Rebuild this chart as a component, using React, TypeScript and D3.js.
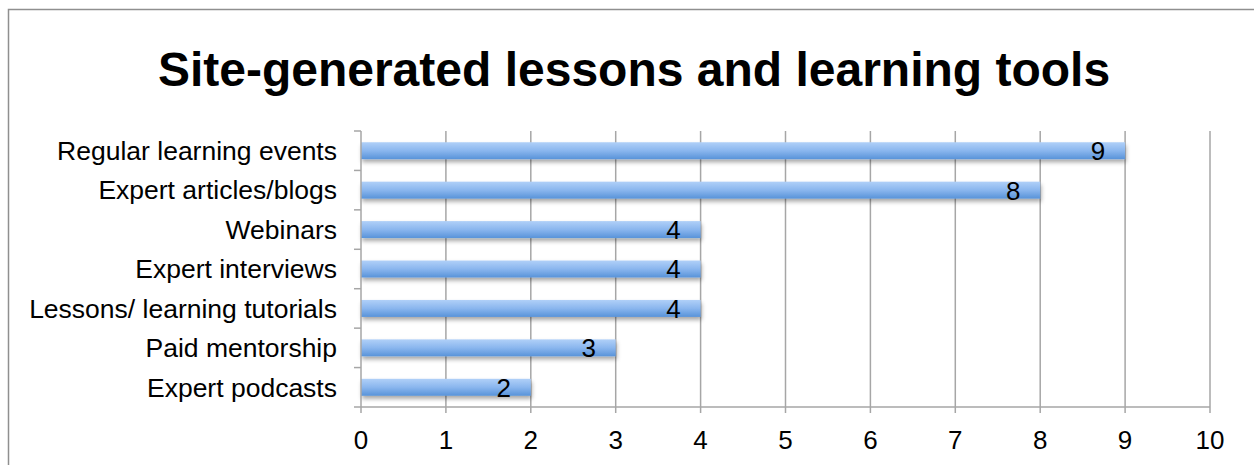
import React from "react";
import * as d3 from "d3";

const categories = [
  "Regular learning events",
  "Expert articles/blogs",
  "Webinars",
  "Expert interviews",
  "Lessons/ learning tutorials",
  "Paid mentorship",
  "Expert podcasts",
];
const values = [9, 8, 4, 4, 4, 3, 2];
const xTicks = [0, 1, 2, 3, 4, 5, 6, 7, 8, 9, 10];
const title = "Site-generated lessons and learning tools";

export default function App() {
  const W = 1254;
  const H = 465;
  const x = d3.scaleLinear().domain([0, 10]).range([361, 1210]);
  const y = d3
    .scaleBand<string>()
    .domain(categories)
    .range([131, 407])
    .paddingInner(0.57)
    .paddingOuter(0.285);
  const step = y.step();
  const top = 131;
  const bottom = 407;
  const font = "'Liberation Sans', Arial, Helvetica, sans-serif";
  const gridColor = "#a6a6a6";
  const boundaries = d3.range(categories.length + 1).map((i) => top + i * step);

  return (
    <svg
      width={W}
      height={H}
      style={{ position: "absolute", left: 0, top: 0, background: "#fff" }}
      fontFamily={font}
    >
      <defs>
        <linearGradient id="barGrad" x1="0" y1="0" x2="0" y2="1">
          <stop offset="0%" stopColor="#b0d0f8" />
          <stop offset="50%" stopColor="#8ab6ee" />
          <stop offset="100%" stopColor="#5893d9" />
        </linearGradient>
        <filter id="shadow" x="-5%" y="-30%" width="110%" height="190%">
          <feDropShadow dx="1" dy="3" stdDeviation="2" floodColor="#000" floodOpacity="0.35" />
        </filter>
      </defs>
      <rect x={8.5} y={9.5} width={1400} height={600} fill="#fff" stroke="#8f8f8f" strokeWidth={1.5} />
      <text x={634} y={86} textAnchor="middle" fontSize={48} fontWeight="bold" fill="#000">
        {title}
      </text>
      {xTicks.slice(1).map((t) => (
        <line key={"g" + t} x1={x(t)} x2={x(t)} y1={top} y2={bottom + 6} stroke={gridColor} strokeWidth={1.5} />
      ))}
      {categories.map((c, i) => (
        <rect
          key={"b" + c}
          x={x(0)}
          y={y(c)}
          width={x(values[i]) - x(0)}
          height={y.bandwidth()}
          fill="url(#barGrad)"
          filter="url(#shadow)"
        />
      ))}
      <line x1={x(0)} x2={x(0)} y1={top} y2={bottom + 6} stroke={gridColor} strokeWidth={1.5} />
      <line x1={x(0)} x2={x(10)} y1={bottom} y2={bottom} stroke={gridColor} strokeWidth={1.5} />
      {boundaries.map((b, i) => (
        <line key={"t" + i} x1={x(0) - 7} x2={x(0)} y1={b} y2={b} stroke={gridColor} strokeWidth={1.5} />
      ))}
      {xTicks.map((t) => (
        <text key={"xl" + t} x={x(t)} y={449} textAnchor="middle" fontSize={26} fill="#000">
          {t}
        </text>
      ))}
      {categories.map((c) => (
        <text
          key={"cl" + c}
          x={337}
          y={(y(c) as number) + y.bandwidth() / 2}
          dy="0.35em"
          textAnchor="end"
          fontSize={26.5}
          fill="#000"
        >
          {c}
        </text>
      ))}
      {categories.map((c, i) => (
        <text
          key={"dl" + c}
          x={x(values[i]) - 27}
          y={(y(c) as number) + y.bandwidth() / 2}
          dy="0.36em"
          textAnchor="middle"
          fontSize={26}
          fill="#000"
        >
          {values[i]}
        </text>
      ))}
    </svg>
  );
}
